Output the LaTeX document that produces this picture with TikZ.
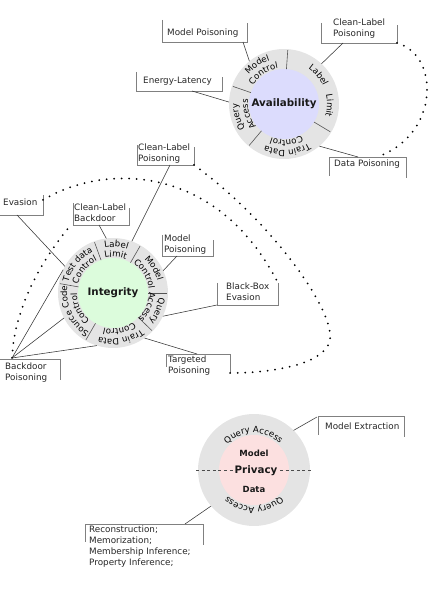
\documentclass[tikz,border=0pt]{standalone}
\usepackage{fontspec}
\setmainfont{DejaVu Sans}
\usetikzlibrary{decorations.text}
\definecolor{ringc}{HTML}{E4E4E4}
\definecolor{lavc}{HTML}{DCDCFD}
\definecolor{grnc}{HTML}{DCFCDC}
\definecolor{pnkc}{HTML}{FCE0E0}
\definecolor{boxc}{HTML}{808080}
\definecolor{linec}{HTML}{333333}
\definecolor{sepc}{HTML}{555555}
\newcommand\ringfont{\fontsize{8.6}{10}\selectfont}
\newcommand\ringlabel[5]{%
  \pgfmathsetmacro\rlsa{#2+#4/2}%
  \pgfmathsetmacro\rlea{#2-#4/2}%
  \path[decorate,decoration={text along path,text={|\ringfont|#5},text align=center}]
    ([shift={(\rlsa:#3)}]#1) arc[start angle=\rlsa,end angle=\rlea,radius=#3];
}
\begin{document}
\begin{tikzpicture}[x=1pt,y=1pt,
  lbl/.style={font=\fontsize{8.8}{11}\selectfont, align=left, inner sep=0pt, anchor=west, text=black!85},
  boxline/.style={draw=boxc, line width=0.6pt},
  conn/.style={draw=linec, line width=0.55pt},
  sepline/.style={draw=sepc, line width=0.6pt},
  dotline/.style={line width=2pt, dash pattern=on 0pt off 7.5pt, line cap=round},
  ctitle/.style={font=\fontsize{10.3}{12}\selectfont\bfseries, text=black!90},
]
\useasboundingbox (0,0) rectangle (430,603);

% ---------- centres ----------
\coordinate (A) at (284,499);
\coordinate (I) at (113,310);
\coordinate (P) at (254,133);

% ---------- discs ----------
\fill[ringc] (A) circle (55);
\fill[lavc] (A) circle (35);
\fill[ringc] (I) circle (55);
\fill[grnc] (I) circle (35);
\fill[ringc] (P) circle (56);
\fill[pnkc] (P) circle (35);

% ---------- separators ----------
\foreach \a in {86,161,230,329}
  \draw[sepline] ([shift={(\a:35)}]A) -- ([shift={(\a:54)}]A);
\foreach \a in {110,60,0,-44,-120,170}
  \draw[sepline] ([shift={(\a:35)}]I) -- ([shift={(\a:54)}]I);

% ---------- ring texts: Availability ----------
\ringlabel{A}{124}{46}{100}{Model}
\ringlabel{A}{124}{36}{100}{Control}
\ringlabel{A}{40}{43}{80}{Label}
\ringlabel{A}{-2}{43}{80}{Limit}
\ringlabel{A}{196}{46}{100}{Query}
\ringlabel{A}{196}{36}{100}{Access}
\ringlabel{A}{274}{46}{110}{Train Data}
\ringlabel{A}{274}{36}{110}{Control}

% ---------- ring texts: Integrity ----------
\ringlabel{I}{86}{46}{100}{Label}
\ringlabel{I}{86}{36}{100}{Limit}
\ringlabel{I}{31}{46}{100}{Model}
\ringlabel{I}{31}{36}{100}{Control}
\ringlabel{I}{-22}{46}{100}{Query}
\ringlabel{I}{-22}{36}{100}{Access}
\ringlabel{I}{-80}{46}{110}{Train Data}
\ringlabel{I}{-80}{36}{110}{Control}
\ringlabel{I}{205}{46}{120}{Source Code}
\ringlabel{I}{205}{36}{120}{Control}
\ringlabel{I}{141}{46}{110}{Test data}
\ringlabel{I}{141}{36}{110}{Control}

% ---------- ring texts: Privacy ----------
\ringlabel{P}{91}{37}{160}{Query Access}
\ringlabel{P}{270}{37}{160}{Query Access}

% ---------- privacy dashed line and titles ----------
\coordinate (Pl) at (196,133);
\coordinate (Pr) at (311,133);
\draw[draw=black!70, line width=0.7pt, dash pattern=on 3pt off 2.6pt] (Pl) -- (Pr);
\node[ctitle, fill=pnkc, inner sep=1pt] (Ptitle) at (256,132) {Privacy};
\node[font=\fontsize{8.5}{10}\selectfont\bfseries, text=black!90] (Pmodel) at (254,150) {Model};
\node[font=\fontsize{8.5}{10}\selectfont\bfseries, text=black!90] (Pdata) at (254,114) {Data};
\node[ctitle] (Atitle) at (284,499) {Availability};
\node[ctitle] (Ititle) at (113,310) {Integrity};

% ---------- ring anchor points ----------
\coordinate (A129) at ([shift={(129:55)}]A);
\coordinate (A47)  at ([shift={(47:55)}]A);
\coordinate (A178) at ([shift={(178:55)}]A);
\coordinate (Am50) at ([shift={(-50:55)}]A);
\coordinate (I70)  at ([shift={(70:55)}]I);
\coordinate (I151) at ([shift={(151:55)}]I);
\coordinate (I97)  at ([shift={(97:55)}]I);
\coordinate (I24)  at ([shift={(24:55)}]I);
\coordinate (Im25) at ([shift={(-25:55)}]I);
\coordinate (Im55) at ([shift={(-55:55)}]I);
\coordinate (I155) at ([shift={(155:55)}]I);
\coordinate (I207) at ([shift={(207:55)}]I);
\coordinate (I253) at ([shift={(253:55)}]I);
\coordinate (P45)  at ([shift={(45:56)}]P);
\coordinate (Pm140) at ([shift={(-140:56)}]P);

% ---------- Availability labels ----------
\node[lbl] (mpa) at (167,570) {Model Poisoning};
\draw[boxline] (162,583) -- (162,561) -- (247,561) -- (247,580);
\coordinate (mpa-c) at (243,561);
\draw[conn] (mpa-c) -- (A129);

\node[lbl] (clpa) at (333,574) {Clean-Label\\Poisoning};
\draw[boxline] (321,580) -- (321,560) -- (397,560) -- (397,578);
\coordinate (clpa-c) at (343,560);
\coordinate (clpa-d) at (397,560);
\draw[conn] (clpa-c) -- (A47);

\node[lbl] (el) at (143,522) {Energy-Latency};
\draw[boxline] (136,531) -- (136,512) -- (222,512) -- (222,526);
\coordinate (el-c) at (192,512);
\draw[conn] (el-c) -- (A178);

\node[lbl] (dp) at (334,439) {Data Poisoning};
\draw[boxline] (329,427) -- (329,446) -- (406,446) -- (406,425);
\coordinate (dp-c) at (358,446);
\coordinate (dp-d) at (377,446);
\draw[conn] (dp-c) -- (Am50);

\draw[dotline] (clpa-d) .. controls (440,548) and (440,468) .. (dp-d);

% ---------- Integrity labels ----------
\node[lbl] (clpi) at (138,449.5) {Clean-Label\\Poisoning};
\draw[boxline] (137,458) -- (137,438) -- (194,438) -- (194,456);
\coordinate (clpi-c) at (170,438);
\coordinate (clpi-d) at (194,438);
\draw[conn] (clpi-c) -- (I70);

\node[lbl] (ev) at (3,401) {Evasion};
\draw[boxline] (0,388) -- (43,388) -- (43,408);
\coordinate (ev-c) at (17,388);
\coordinate (ev-d) at (43,403);
\draw[conn] (ev-c) -- (I151);

\node[lbl] (clb) at (74,390.5) {Clean-Label\\Backdoor};
\draw[boxline] (73,400) -- (73,378) -- (129,378) -- (129,395);
\coordinate (clb-c) at (99,378);
\coordinate (clb-d) at (70,377);
\draw[conn] (clb-c) -- (I97);

\node[lbl] (mpi) at (164,358) {Model\\Poisoning};
\draw[boxline] (162,368) -- (162,347) -- (213,347) -- (213,363);
\coordinate (mpi-c) at (177,347);
\draw[conn] (mpi-c) -- (I24);

\node[lbl] (bbe) at (226,311) {Black-Box\\Evasion};
\draw[boxline] (217,320) -- (217,298) -- (278,298) -- (278,320);
\coordinate (bbe-c) at (217,298);
\coordinate (bbe-d) at (278,320);
\draw[conn] (bbe-c) -- (Im25);

\node[lbl] (tp) at (168,237.5) {Targeted\\Poisoning};
\draw[boxline] (166,236) -- (166,249) -- (230,249) -- (230,230);
\coordinate (tp-c) at (197,249);
\coordinate (tp-d) at (230,230);
\draw[conn] (tp-c) -- (Im55);

\node[lbl] (bp) at (5,230.5) {Backdoor\\Poisoning};
\draw[boxline] (0,244) -- (60,244) -- (60,223);
\coordinate (bp-c) at (12,245);
\draw[conn] (bp-c) -- (I155);
\draw[conn] (bp-c) -- (I207);
\draw[conn] (bp-c) -- (I253);

\draw[dotline] (clpi-d) .. controls (270,383) and (335,293) .. (330,263)
                        .. controls (325,238) and (270,230) .. (tp-d);
\draw[dotline] (ev-d) .. controls (100,438) and (215,443) .. (bbe-d);
\draw[dotline] (bp-c) .. controls (14,293) and (40,341) .. (clb-d);

% ---------- Privacy labels ----------
\node[lbl] (me) at (325,177) {Model Extraction};
\draw[boxline] (318,168) -- (318,187) -- (404,187) -- (404,166);
\coordinate (me-c) at (317,186);
\draw[conn] (me-c) -- (P45);

\node[lbl] (rec) at (89,56) {Reconstruction;\\Memorization;\\Membership Inference;\\Property Inference;};
\draw[boxline] (85,61) -- (85,79) -- (203,79) -- (203,58);
\coordinate (rec-c) at (185,79);
\draw[conn] (rec-c) -- (Pm140);
\end{tikzpicture}
\end{document}
